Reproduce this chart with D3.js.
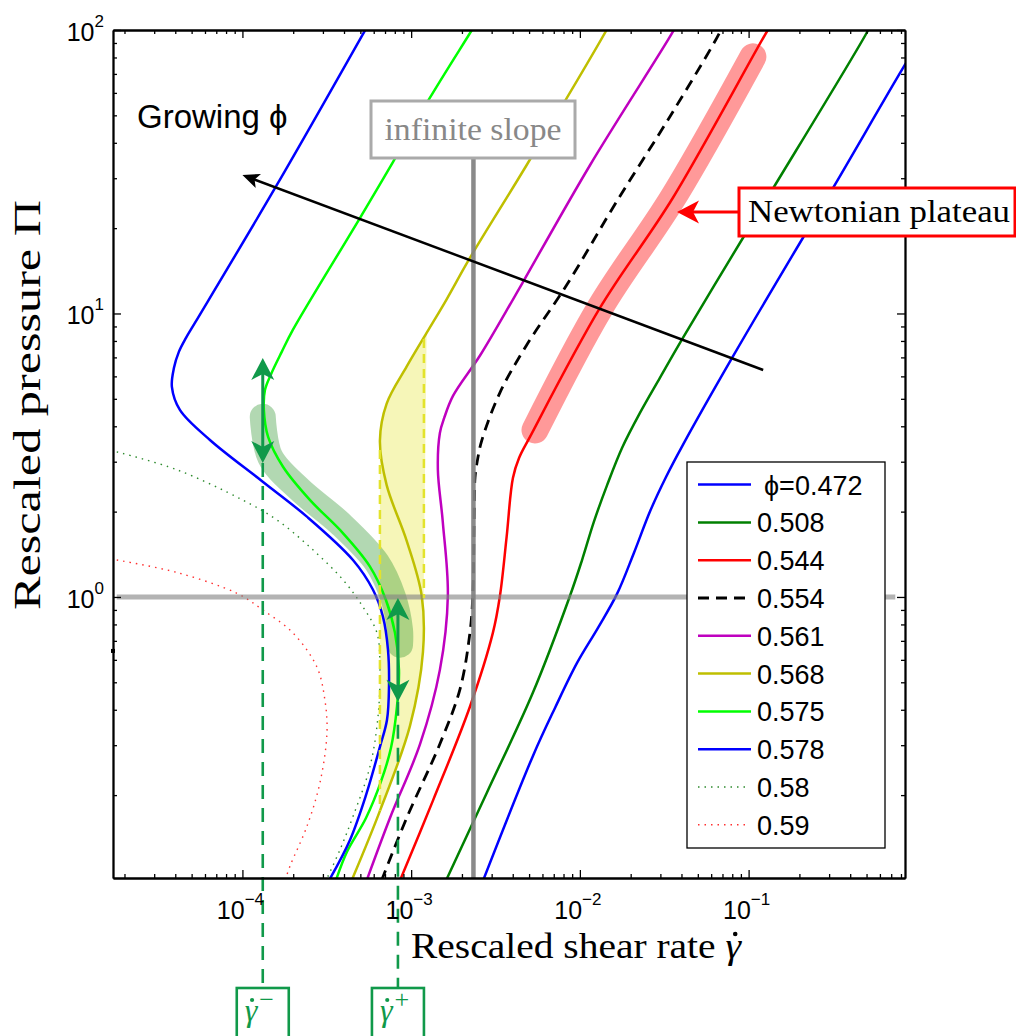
<!DOCTYPE html>
<html><head><meta charset="utf-8">
<script src="https://cdnjs.cloudflare.com/ajax/libs/d3/7.8.5/d3.min.js"></script>
<style>body{margin:0;background:#fff} svg{display:block}</style>
</head><body>
<svg id="chart" width="1016" height="1036"></svg>
<script>
// ---------------- DATA (shear rate, pressure) ----------------
const phi0472 = [[2.67e-3,0.1],[5.27e-3,0.275],[7.12e-3,0.406],[9.62e-3,0.585],[1.28e-2,0.778],[1.66e-2,1.025],[2.09e-2,1.43],[2.61e-2,2.01],[3.24e-2,2.65],[4.08e-2,3.44],[7.98e-2,6.97],[0.210,18.5],[0.316,27.7],[0.823,73.5],[1.04,92]];
const phi0508 = [[1.61e-3,0.1],[2.81e-3,0.204],[5.27e-3,0.460],[8.74e-3,1.01],[1.03e-2,1.35],[1.21e-2,1.84],[1.45e-2,2.48],[1.78e-2,3.36],[2.27e-2,4.46],[2.98e-2,5.93],[4.08e-2,8.20],[9.27e-2,18.5],[0.140,27.7],[0.504,98.4],[0.539,107]];
const phi0544 = [[8.59e-4,0.1],[1.35e-3,0.192],[2.23e-3,0.410],[3.05e-3,0.747],[3.36e-3,1.01],[3.68e-3,1.63],[4.01e-3,2.63],[4.36e-3,3.09],[5.06e-3,3.67],[1.32e-2,10.5],[3.56e-2,25.6],[0.130,100],[0.1415,108]];
const phi0554 = [[6.68e-4,0.1],[9.40e-4,0.166],[1.48e-3,0.303],[1.95e-3,0.474],[2.23e-3,0.747],[2.32e-3,1.01],[2.36e-3,1.84],[2.39e-3,2.63],[2.46e-3,2.99],[2.62e-3,3.56],[3.36e-3,5.26],[4.84e-3,7.74],[8.35e-3,12.6],[1.65e-2,24.8],[3.56e-2,51.5],[6.77e-2,98.6],[7.15e-2,107]];
const phi0561 = [[5.45e-4,0.1],[7.49e-4,0.166],[1.13e-3,0.303],[1.48e-3,0.553],[1.65e-3,1.01],[1.54e-3,1.84],[1.44e-3,2.81],[1.48e-3,3.79],[1.57e-3,4.28],[1.77e-3,5.12],[2.56e-3,7.11],[4.01e-3,11.2],[4.60e-3,12.9],[1.15e-2,33.4],[3.56e-2,98.6],[3.82e-2,107]];
const phi0568 = [[4.44e-4,0.1],[6.53e-4,0.176],[9.84e-4,0.351],[1.175e-3,0.640],[1.155e-3,1.01],[9.40e-4,1.58],[7.16e-4,2.48],[6.53e-4,3.56],[7.16e-4,4.81],[9.40e-4,6.49],[1.235e-3,8.54],[1.62e-3,11.2],[2.23e-3,15.7],[4.84e-3,33.4],[1.44e-2,100],[1.53e-2,107]];
const phi0575 = [[3.58e-4,0.1],[4.16e-4,0.126],[5.40e-4,0.166],[6.62e-4,0.223],[7.59e-4,0.293],[8.24e-4,0.410],[8.47e-4,0.553],[8.02e-4,0.747],[7.09e-4,0.976],[5.70e-4,1.28],[3.94e-4,1.68],[2.51e-4,2.20],[1.74e-4,2.88],[1.42e-4,3.67],[1.34e-4,4.57],[1.36e-4,5.37],[1.48e-4,6.12],[1.71e-4,7.32],[1.99e-4,8.75],[4.97e-4,21.7],[7.80e-4,34.2],[1.29e-3,57.6],[2.29e-3,100],[2.45e-3,107]];
const phi0578 = [[3.26e-4,0.1],[4.34e-4,0.139],[5.40e-4,0.200],[6.53e-4,0.296],[7.19e-4,0.368],[7.39e-4,0.482],[7.29e-4,0.651],[6.81e-4,0.851],[5.94e-4,1.06],[4.52e-4,1.35],[2.41e-4,1.92],[1.32e-4,2.55],[6.42e-5,3.58],[4.26e-5,4.57],[3.82e-5,5.51],[3.93e-5,6.43],[4.20e-5,7.32],[4.63e-5,8.20],[5.23e-5,9.26],[1.60e-4,28.4],[5.55e-4,104]];
const phi0580 = [[1.80e-5,3.25],[4.09e-5,2.81],[1.00e-4,2.20],[1.60e-4,1.87],[2.51e-4,1.50],[3.94e-4,1.15],[5.18e-4,0.922],[6.27e-4,0.747],[6.53e-4,0.567],[6.36e-4,0.378],[5.70e-4,0.252],[4.52e-4,0.168],[3.78e-4,0.128],[3.13e-4,0.1]];
const phi0590 = [[1.80e-5,1.35],[4.09e-5,1.22],[9.28e-5,1.03],[1.32e-4,0.900],[1.99e-4,0.747],[2.76e-4,0.567],[3.08e-4,0.434],[3.17e-4,0.332],[2.88e-4,0.221],[2.41e-4,0.155],[1.91e-4,0.112],[1.79e-4,0.1]];

const legendLabels = ["\u03D5=0.472","0.508","0.544","0.554","0.561","0.568","0.575","0.578","0.58","0.59"];
const seriesData = [phi0472,phi0508,phi0544,phi0554,phi0561,phi0568,phi0575,phi0578,phi0580,phi0590];

// highlighted bands
const newtonianBand = [[5.42e-3,3.88],[1.32e-2,10.5],[3.56e-2,25.6],[0.106,80.4]];
const unstableBand = [[1.32e-4,4.32],[1.46e-4,3.12],[2.19e-4,2.39],[3.78e-4,1.82],[6.27e-4,1.32],[7.80e-4,1.0],[8.59e-4,0.765],[8.59e-4,0.678]];

// special shear rates / pressures
const gammaMinus = 1.32e-4, gammaPlus = 8.35e-4;
const gammaMinusArrow = [6.97, 2.97];
const gammaPlusArrow = [0.992, 0.427];
const maxwellLeft = 6.53e-4, maxwellRight = 1.19e-3;
const maxwellLeftRange = [3.3, 0.176], maxwellRightRange = [8.13, 0.99];
const infiniteSlopeX = 2.34e-3, infiniteSlopeTop = 35.4;
const piOne = 1, piOneRange = [1.8e-5, 0.74];
const growingArrow = [[0.122, 6.32],[1.0e-4, 30.8]];
const artifactMark = 0.645;

const xMajor = [1e-4,1e-3,1e-2,1e-1], xMajorExp = ["\u22124","\u22123","\u22122","\u22121"];
const yMajor = [1,10,100], yMajorExp = ["0","1","2"];

// ---------------- STYLES ----------------
const colors = ["#0000ff","#008000","#ff0000","#000000","#bf00bf","#bfbf00","#00ff00","#0000ff","#2e8b2e","#ff3030"];
const dashes = [null,null,null,"11,7",null,null,null,null,"1.5,5","1.5,5"];
const widths = [2.5,2.5,2.5,2.8,2.5,2.5,2.5,2.5,1.4,1.4];
const GREEN = "#10994a";

const M = {left:113, top:30, right:905, bottom:878};
const svg = d3.select("#chart");
const x = d3.scaleLog().domain([1.71e-5,0.845]).range([M.left,M.right]);
const y = d3.scaleLog().domain([0.102,100]).range([M.bottom,M.top]);

svg.append("rect").attr("width",1016).attr("height",1036).attr("fill","#fff");
svg.append("defs").append("clipPath").attr("id","clip").append("rect")
  .attr("x",M.left).attr("y",M.top).attr("width",M.right-M.left).attr("height",M.bottom-M.top);

const line = d3.line().x(d=>x(d[0])).y(d=>y(d[1])).curve(d3.curveCatmullRom.alpha(0.5));
const plot = svg.append("g").attr("clip-path","url(#clip)");

// yellow shading (two lobes between the curve and the dashed verticals)
const yl = phi0568;
const shade = plot.append("g").attr("opacity",0.33);
shade.append("path").attr("d", line(yl.slice(1,8))+"Z").attr("fill","#e6e62a");
shade.append("path").attr("d", line(yl.slice(3,11))+"Z").attr("fill","#e6e62a");

// bands
plot.append("path").attr("d",line(newtonianBand)).attr("fill","none")
  .attr("stroke","#ff0000").attr("stroke-opacity",0.4).attr("stroke-width",27).attr("stroke-linecap","round");
plot.append("path").attr("d",line(unstableBand)).attr("fill","none")
  .attr("stroke","#2a932a").attr("stroke-opacity",0.36).attr("stroke-width",26).attr("stroke-linecap","round").attr("stroke-linejoin","round");

// curves
seriesData.forEach((d,i)=>{
  plot.append("path").attr("d",line(d)).attr("fill","none")
    .attr("stroke",colors[i]).attr("stroke-width",widths[i])
    .attr("stroke-dasharray",dashes[i]);
});

// gray reference lines
plot.append("line").attr("x1",x(piOneRange[0])).attr("x2",x(piOneRange[1]))
  .attr("y1",y(piOne)).attr("y2",y(piOne)).attr("stroke","#808080").attr("stroke-opacity",0.6).attr("stroke-width",5);
plot.append("line").attr("x1",x(infiniteSlopeX)).attr("x2",x(infiniteSlopeX))
  .attr("y1",y(infiniteSlopeTop)).attr("y2",M.bottom).attr("stroke","#808080").attr("stroke-opacity",0.92).attr("stroke-width",4.5);

// dashed verticals bounding the shading
[[maxwellLeft,maxwellLeftRange],[maxwellRight,maxwellRightRange]].forEach(([xv,r])=>{
  plot.append("line").attr("x1",x(xv)).attr("x2",x(xv)).attr("y1",y(r[0])).attr("y2",y(r[1]))
    .attr("stroke","#e3e32c").attr("stroke-width",2.5).attr("stroke-dasharray","9,6");
});

function arrowHead(g,tx,ty,angle,len,wid,notch,color){
  const ux=Math.cos(angle), uy=Math.sin(angle), px=-uy, py=ux;
  const bx=tx-ux*len, by=ty-uy*len;
  const p1=[bx+px*wid/2, by+py*wid/2], p2=[bx-px*wid/2, by-py*wid/2];
  const n=[tx-ux*(len-notch), ty-uy*(len-notch)];
  g.append("path").attr("d",`M${tx},${ty}L${p1}L${n}L${p2}Z`).attr("fill",color);
}
const serif = "Liberation Serif, Times New Roman, serif";
// dot accent above a glyph (drawn as a tiny circle)
function dotOver(textSel, idx, dx, rise, r, color){
  const e = textSel.node().getExtentOfChar(idx);
  textSel.select(function(){return this.parentNode;}).append("circle")
    .attr("cx", e.x + e.width*0.5 + dx).attr("cy", +textSel.attr("y") - rise)
    .attr("r", r).attr("fill", color);
}

// green dashed verticals down to label boxes + double arrows
const ann = svg.append("g");
const boxTop = 988;
[[gammaMinus,gammaMinusArrow,"\u2212"],[gammaPlus,gammaPlusArrow,"+"]].forEach(([gv,ar,sign])=>{
  const gx = x(gv);
  ann.append("line").attr("x1",gx).attr("x2",gx).attr("y1",y(ar[1])).attr("y2",boxTop)
    .attr("stroke",GREEN).attr("stroke-width",2.6).attr("stroke-dasharray","14,9");
  ann.append("line").attr("x1",gx).attr("x2",gx).attr("y1",y(ar[0])+10).attr("y2",y(ar[1])-10)
    .attr("stroke",GREEN).attr("stroke-width",3);
  arrowHead(ann,gx,y(ar[0]),-Math.PI/2,22,23,6,GREEN);
  arrowHead(ann,gx,y(ar[1]),Math.PI/2,22,23,6,GREEN);
  ann.append("rect").attr("x",gx-26).attr("y",boxTop).attr("width",52).attr("height",60)
    .attr("fill","#fff").attr("stroke",GREEN).attr("stroke-width",2.6);
  const t = ann.append("text").attr("x",gx-18).attr("y",1021)
    .attr("font-family",serif).attr("font-size",32).attr("fill",GREEN);
  t.append("tspan").attr("font-style","italic").text("\u03B3");
  t.append("tspan").attr("dx",2).attr("dy",-13).attr("font-size",26).text(sign);
  dotOver(t,0,1,21,2.1,GREEN);
});

// growing phi arrow
{
  const [a,b] = growingArrow;
  const x1=x(a[0]), y1=y(a[1]), x2=x(b[0]), y2=y(b[1]);
  const ang=Math.atan2(y2-y1,x2-x1);
  ann.append("line").attr("x1",x1).attr("y1",y1).attr("x2",x2-Math.cos(ang)*8).attr("y2",y2-Math.sin(ang)*8)
    .attr("stroke","#000").attr("stroke-width",2.5);
  arrowHead(ann,x2,y2,ang,17,15,4,"#000");
}

// ---------------- AXES ----------------
const xMinor=[], yMinor=[];
for(let e=-5;e<=-1;e++) for(let m=2;m<=9;m++){const v=m*Math.pow(10,e); if(v>=x.domain()[0]&&v<=x.domain()[1]) xMinor.push(v);}
for(let e=-1;e<=1;e++) for(let m=2;m<=9;m++){const v=m*Math.pow(10,e); if(v>=y.domain()[0]&&v<=y.domain()[1]) yMinor.push(v);}

const axG = svg.append("g");
function addAxis(gen, tr, vals, size){
  const g = axG.append("g").attr("transform",tr)
    .call(gen.tickValues(vals).tickSize(-size).tickSizeOuter(0).tickFormat(""));
  g.selectAll("path.domain").attr("stroke","#000").attr("stroke-width",1.8);
  g.selectAll("line").attr("stroke","#000").attr("stroke-width",1.3);
}
addAxis(d3.axisBottom(x),`translate(0,${M.bottom})`,xMajor,8);
addAxis(d3.axisBottom(x),`translate(0,${M.bottom})`,xMinor,4);
addAxis(d3.axisTop(x),`translate(0,${M.top})`,xMajor,8);
addAxis(d3.axisTop(x),`translate(0,${M.top})`,xMinor,4);
addAxis(d3.axisLeft(y),`translate(${M.left},0)`,yMajor,8);
addAxis(d3.axisLeft(y),`translate(${M.left},0)`,yMinor,4);
addAxis(d3.axisRight(y),`translate(${M.right},0)`,yMajor,8);
addAxis(d3.axisRight(y),`translate(${M.right},0)`,yMinor,4);

svg.append("rect").attr("x",M.left-2).attr("y",y(artifactMark)-2).attr("width",4).attr("height",4).attr("fill","#000");

const tickFont = "Liberation Sans, Arial, sans-serif";
xMajor.forEach((v,i)=>{
  const t=svg.append("text").attr("x",x(v)-2).attr("y",919).attr("text-anchor","middle")
    .attr("font-family",tickFont).attr("font-size",25).attr("fill","#000");
  t.append("tspan").text("10");
  t.append("tspan").attr("dy",-14).attr("font-size",17).text(xMajorExp[i]);
});
yMajor.forEach((v,i)=>{
  const t=svg.append("text").attr("x",104).attr("y",y(v)+11).attr("text-anchor","end")
    .attr("font-family",tickFont).attr("font-size",25).attr("fill","#000");
  t.append("tspan").text("10");
  t.append("tspan").attr("dy",-14).attr("font-size",17).text(yMajorExp[i]);
});

// axis titles
const xt = svg.append("text").attr("x",411).attr("y",958)
  .attr("font-family",serif).attr("font-size",36).attr("fill","#000")
  .attr("textLength",330).attr("lengthAdjust","spacingAndGlyphs");
xt.append("tspan").text("Rescaled shear rate ");
xt.append("tspan").attr("font-style","italic").text("\u03B3");
dotOver(xt, "Rescaled shear rate \u03B3".length-1, 2, 24, 2.3, "#000");
svg.append("text").attr("transform","translate(40,405) rotate(-90)").attr("text-anchor","middle")
  .attr("font-family",serif).attr("font-size",37).attr("fill","#000")
  .attr("textLength",410).attr("lengthAdjust","spacingAndGlyphs")
  .text("Rescaled pressure \u03A0");

// ---------------- LEGEND ----------------
const lg = svg.append("g");
lg.append("rect").attr("x",687).attr("y",462).attr("width",198).attr("height",386)
  .attr("fill","#fff").attr("stroke","#000").attr("stroke-width",1.3);
legendLabels.forEach((lab,i)=>{
  const ry = 484.6 + i*37.8;
  const dotted = dashes[i] && dashes[i].startsWith("1.5");
  lg.append("line").attr("x1",698).attr("x2",dotted?746:751).attr("y1",ry).attr("y2",ry)
    .attr("stroke",colors[i]).attr("stroke-width",widths[i]).attr("stroke-dasharray",dashes[i]);
  lg.append("text").attr("x",i===0?764:757).attr("y",ry+10).attr("font-family",tickFont)
    .attr("font-size",27).attr("fill","#000").text(lab);
});

// ---------------- ANNOTATIONS ----------------
svg.append("text").attr("x",137).attr("y",128).attr("font-family",tickFont).attr("font-size",33)
  .attr("fill","#000").text("Growing \u03D5");

svg.append("rect").attr("x",371).attr("y",101).attr("width",204).attr("height",57)
  .attr("fill","#fff").attr("stroke","#aaaaaa").attr("stroke-width",3);
svg.append("text").attr("x",473).attr("y",140).attr("text-anchor","middle")
  .attr("font-family",serif).attr("font-size",31).attr("fill","#888")
  .attr("textLength",177).attr("lengthAdjust","spacingAndGlyphs").text("infinite slope");

svg.append("line").attr("x1",739).attr("x2",692).attr("y1",212).attr("y2",212).attr("stroke","#ff0000").attr("stroke-width",3);
arrowHead(svg,677,212,Math.PI,22,23,6,"#ff0000");
svg.append("rect").attr("x",739).attr("y",188).attr("width",276).attr("height",48)
  .attr("fill","#fff").attr("stroke","#ff0000").attr("stroke-width",3);
svg.append("text").attr("x",748).attr("y",222).attr("font-family",serif).attr("font-size",31)
  .attr("fill","#000").attr("textLength",262).attr("lengthAdjust","spacingAndGlyphs").text("Newtonian plateau");
</script>
</body></html>
